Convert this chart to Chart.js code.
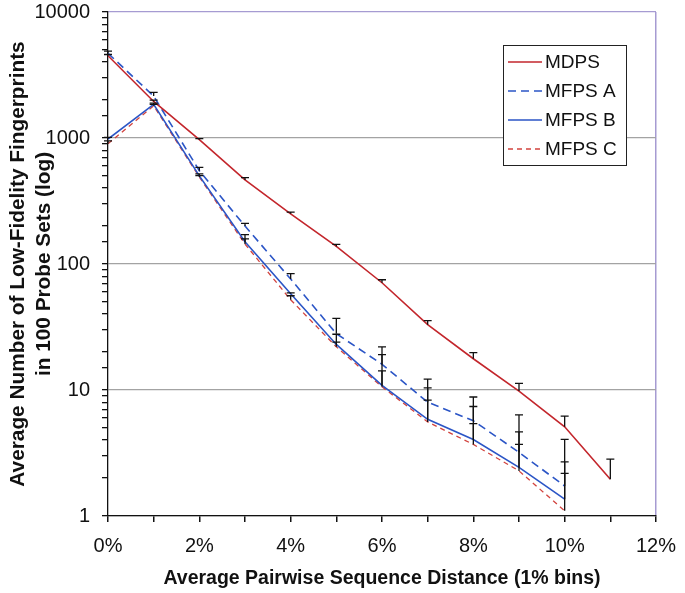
<!DOCTYPE html>
<html>
<head>
<meta charset="utf-8">
<script src="https://cdn.jsdelivr.net/npm/chart.js@4.4.0/dist/chart.umd.min.js"></script>
<style>
  html, body { margin: 0; padding: 0; background: #fff; }
</style>
</head>
<body>
<canvas id="chart" width="685" height="593"></canvas>
<script>
// distance bins (%), one point per bin
const bins = [0, 1, 2, 3, 4, 5, 6, 7, 8, 9, 10, 11];

const mdps    = [4500, 1950, 970, 465, 250, 138, 71, 33, 17.7, 9.8, 5.1, 1.96];
const mdpsTop = [4600, 2000, 990, 485, 258, 143, 75, 35.5, 19.8, 11.3, 6.2, 2.83];

const mfpsA    = [4700, 2150, 550, 200, 76, 28, 16, 8.0, 5.7, 3.2, 1.73];
const mfpsATop = [4900, 2300, 585, 210, 84, 37, 22, 12.2, 8.8, 6.35, 4.05];

const mfpsB    = [980, 1850, 500, 150, 58, 23, 10.9, 5.85, 4.05, 2.43, 1.36];
const mfpsBTop = [1010, 1890, 520, 171, 59, 27.7, 19.1, 10.4, 7.4, 4.65, 2.69];

const mfpsC    = [900, 1800, 490, 144, 52, 22, 10.6, 5.58, 3.7, 2.28, 1.1];
const mfpsCTop = [950, 1850, 502, 158, 56, 24, 14.2, 8.3, 5.4, 3.7, 2.18];

const FONT = "'Liberation Sans', Arial, sans-serif";

const toPoints = (vals) => vals.map((v, i) => ({ x: bins[i], y: v }));

// upper error bars in black, from the value up to the top
const errorBars = {
  id: "errorBars",
  afterDatasetsDraw(chart) {
    const ctx = chart.ctx;
    const xs = chart.scales.x, ys = chart.scales.y;
    ctx.save();
    ctx.strokeStyle = "#111";
    ctx.lineWidth = 1.3;
    chart.data.datasets.forEach((ds) => {
      ds.data.forEach((p, i) => {
        const top = ds.errTop[i];
        if (top == null) return;
        const x = xs.getPixelForValue(p.x);
        const y0 = ys.getPixelForValue(p.y);
        const y1 = ys.getPixelForValue(top);
        ctx.beginPath();
        ctx.moveTo(x, y0);
        ctx.lineTo(x, y1);
        ctx.moveTo(x - 4, y1);
        ctx.lineTo(x + 4, y1);
        ctx.stroke();
      });
    });
    ctx.restore();
  },
};

// boxed legend inside the plot, top right
const boxLegend = {
  id: "boxLegend",
  afterDraw(chart) {
    const ctx = chart.ctx;
    const left = 503, top = 45, w = 123, h = 120;
    ctx.save();
    ctx.fillStyle = "#fff";
    ctx.fillRect(left, top, w, h);
    ctx.strokeStyle = "#222";
    ctx.lineWidth = 1;
    ctx.strokeRect(left + 0.5, top + 0.5, w, h);
    ctx.font = "19px " + FONT;
    ctx.textBaseline = "middle";
    chart.data.datasets.forEach((ds, i) => {
      const y = top + 17 + i * 29;
      ctx.strokeStyle = ds.borderColor;
      ctx.lineWidth = ds.borderWidth;
      ctx.setLineDash(ds.borderDash || []);
      ctx.beginPath();
      ctx.moveTo(left + 5, y);
      ctx.lineTo(left + 39, y);
      ctx.stroke();
      ctx.setLineDash([]);
      ctx.fillStyle = "#111";
      ctx.fillText(ds.label, left + 42, y + 1);
    });
    ctx.restore();
  },
};

const isDecade = (v) => Math.abs(Math.log10(v) - Math.round(Math.log10(v))) < 1e-9;

new Chart(document.getElementById("chart"), {
  type: "line",
  data: {
    datasets: [
      {
        label: "MDPS",
        data: toPoints(mdps),
        errTop: mdpsTop,
        borderColor: "#c3262c",
        borderWidth: 1.6,
      },
      {
        label: "MFPS A",
        data: toPoints(mfpsA),
        errTop: mfpsATop,
        borderColor: "#2b55c6",
        borderWidth: 1.6,
        borderDash: [8, 5],
      },
      {
        label: "MFPS B",
        data: toPoints(mfpsB),
        errTop: mfpsBTop,
        borderColor: "#2b55c6",
        borderWidth: 1.6,
      },
      {
        label: "MFPS C",
        data: toPoints(mfpsC),
        errTop: mfpsCTop,
        borderColor: "#d2433e",
        borderWidth: 1.3,
        borderDash: [5, 4],
      },
    ],
  },
  options: {
    responsive: false,
    animation: false,
    layout: { padding: { top: 12, right: 29, left: 0, bottom: 0 } },
    elements: { point: { radius: 0 }, line: { tension: 0 } },
    plugins: { legend: { display: false }, tooltip: { enabled: false } },
    scales: {
      x: {
        type: "linear",
        min: 0,
        max: 12,
        afterFit(scale) {
          scale.height = 77;
          scale.paddingLeft = 0;
          scale.paddingRight = 0;
        },
        border: { color: "#111", width: 1.3 },
        grid: {
          color: (c) => (c.tick && c.tick.value === 12 ? "#a69bd2" : "rgba(0,0,0,0)"),
          lineWidth: 1.5,
          tickColor: "#111",
          tickLength: 6,
        },
        ticks: {
          stepSize: 1,
          autoSkip: false,
          maxRotation: 0,
          padding: 12,
          color: "#111",
          font: { family: FONT, size: 20 },
          callback: (v) => (v % 2 === 0 ? v + "%" : ""),
        },
        title: {
          display: true,
          text: "Average Pairwise Sequence Distance (1% bins)",
          color: "#111",
          font: { family: FONT, size: 19.5, weight: "bold" },
          padding: { top: 4, bottom: 3 },
        },
      },
      y: {
        type: "logarithmic",
        min: 1,
        max: 10000,
        afterFit(scale) {
          scale.width = 108;
          scale.paddingTop = 0;
          scale.paddingBottom = 0;
        },
        border: { color: "#111", width: 1.3 },
        grid: {
          color: (c) => {
            const v = c.tick && c.tick.value;
            if (v === 10000) return "#a69bd2";
            return v && isDecade(v) ? "#a3a3a3" : "rgba(0,0,0,0)";
          },
          lineWidth: 1.3,
          tickColor: "#111",
          tickLength: 6,
        },
        ticks: {
          autoSkip: false,
          padding: 12,
          color: "#111",
          font: { family: FONT, size: 20 },
          callback: (v) => (isDecade(v) ? String(v) : ""),
        },
        title: {
          display: true,
          text: ["Average Number of Low-Fidelity Fingerprints", "in 100 Probe Sets (log)"],
          color: "#111",
          font: { family: FONT, size: 20.8, weight: "bold", lineHeight: 1.22 },
          padding: { top: 6, bottom: 0 },
        },
      },
    },
  },
  plugins: [errorBars, boxLegend],
});
</script>
</body>
</html>
